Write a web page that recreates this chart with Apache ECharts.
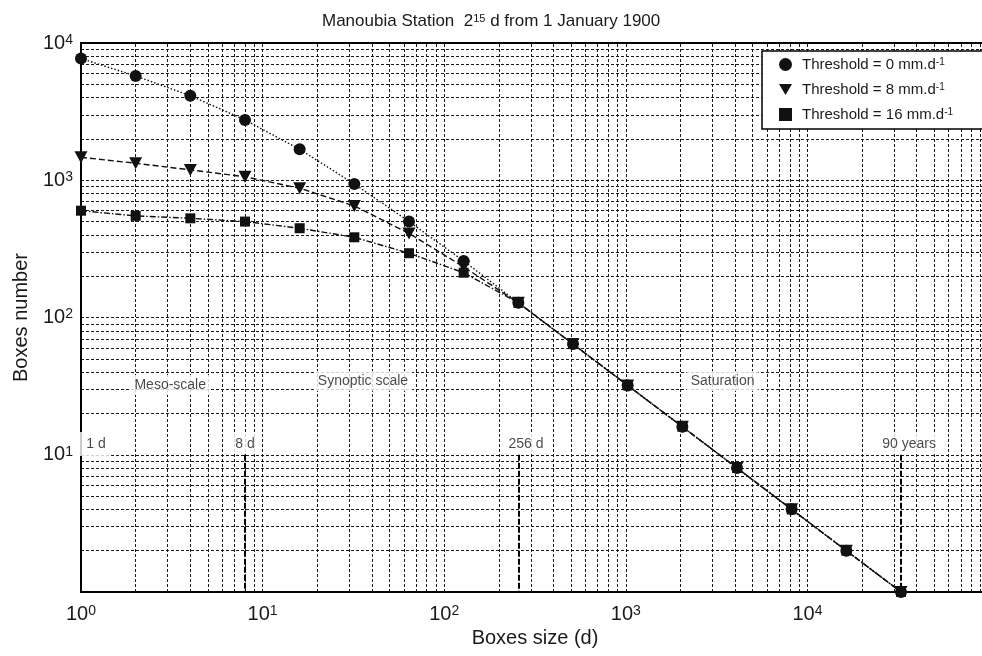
<!DOCTYPE html>
<html>
<head>
<meta charset="utf-8">
<script src="https://cdn.jsdelivr.net/npm/echarts@6/dist/echarts.min.js"></script>
<style>html,body{margin:0;padding:0;background:#fff;overflow:hidden}#c{width:992px;height:656px}</style>
</head>
<body>
<div id="c"></div>
<script>
// ---- data ----
const sizes = [1, 2, 4, 8, 16, 32, 64, 128, 256, 512, 1024, 2048, 4096, 8192, 16384, 32768];
const thr0  = [7700, 5750, 4130, 2750, 1680, 940, 500, 258, 128, 64, 32, 16, 8, 4, 2, 1];
const thr8  = [1470, 1330, 1190, 1060, 875, 650, 410, 234, 128, 64, 32, 16, 8, 4, 2, 1];
const thr16 = [600, 550, 528, 500, 447, 384, 294, 212, 128, 64, 32, 16, 8, 4, 2, 1];
const seriesNames = ['Threshold = 0 mm.d-1', 'Threshold = 8 mm.d-1', 'Threshold = 16 mm.d-1'];

// grid line values (log axes)
const xGridValues = [2,3,4,5,6,7,8,9,10,20,30,40,50,60,70,80,90,100,200,300,400,500,600,700,800,900,
  1000,2000,3000,4000,5000,6000,7000,8000,9000,10000,20000,30000,40000,50000,60000,70000,80000,90000];
const yGridValues = [2,3,4,5,6,7,8,9,10,20,30,40,50,60,70,80,90,100,200,300,400,500,600,700,800,900,
  1000,2000,3000,4000,5000,6000,7000,8000,9000];

// annotations
const annoText = ['Meso-scale', 'Synoptic scale', 'Saturation', '1 d', '8 d', '256 d', '90 years'];
const annoX = [3.1, 35.7, 3410, 1.15, 8, 282, 36300];
const annoY = [32.2, 34.5, 34.5, 12, 12, 12, 12];
const markerX = [8, 256, 32768];
const markerTop = 10, markerBottom = 1;

const FONT = 'Liberation Sans';
const INK = '#1a1a1a';

function pow10Label(v, hideVals) {
  const e = Math.round(Math.log10(v));
  if (hideVals.indexOf(e) >= 0) return '';
  return '{b|10}{s|' + e + '}';
}
const powRich = {
  b: { fontSize: 20, color: INK, fontFamily: FONT },
  s: { fontSize: 14, color: INK, fontFamily: FONT, verticalAlign: 'top' }
};

const chart = echarts.init(document.getElementById('c'), null, { renderer: 'canvas' });

const gridLineStyle = { color: '#1a1a1a', width: 1, type: [3, 2] };

const option = {
  animation: false,
  backgroundColor: '#fff',
  textStyle: { fontFamily: FONT },
  title: {
    text: 'Manoubia Station  2{s|15} d from 1 January 1900',
    left: 317, top: 8,
    textStyle: {
      fontSize: 17, fontWeight: 'normal', color: INK, fontFamily: FONT,
      rich: { s: { fontSize: 11, color: INK, fontFamily: FONT, verticalAlign: 'top' } }
    }
  },
  grid: {
    left: 81, top: 43, right: 1, bottom: 64,
    show: true, borderColor: '#000', borderWidth: 2, backgroundColor: 'transparent'
  },
  legend: {
    orient: 'vertical', left: 762, top: 51, z: 50, zlevel: 1,
    backgroundColor: '#fff', borderColor: '#000', borderWidth: 1.5,
    padding: [6, 300, 7, 17],
    itemWidth: 13, itemHeight: 13, itemGap: 10,
    textStyle: {
      fontSize: 15, color: INK, fontFamily: FONT,
      rich: {
        g: { width: 5, fontSize: 15 },
        sup: { fontSize: 10, color: INK, fontFamily: FONT, verticalAlign: 'top' }
      }
    },
    formatter: n => '{g| }' + n.replace('-1', '') + '{sup|-1}',
    data: [
      { name: seriesNames[0], icon: 'circle' },
      { name: seriesNames[1], icon: 'path://M0,0L12,0L6,10Z' },
      { name: seriesNames[2], icon: 'rect' }
    ]
  },
  xAxis: {
    type: 'log', logBase: 10, min: 1, max: 100000,
    name: 'Boxes size (d)', nameLocation: 'middle', nameGap: 34,
    nameTextStyle: { fontSize: 20, color: INK, fontFamily: FONT },
    axisLine: { show: true, lineStyle: { color: '#000', width: 2 } },
    axisTick: { show: false },
    splitLine: { show: false },
    axisLabel: { margin: 12, formatter: v => pow10Label(v, [5]), rich: powRich }
  },
  yAxis: {
    type: 'log', logBase: 10, min: 1, max: 10000,
    name: 'Boxes number', nameLocation: 'middle', nameGap: 50,
    nameTextStyle: { fontSize: 20, color: INK, fontFamily: FONT },
    axisLine: { show: true, lineStyle: { color: '#000', width: 2 } },
    axisTick: { show: false },
    splitLine: { show: false },
    axisLabel: { margin: 8, formatter: v => pow10Label(v, [0]), rich: powRich }
  },
  series: [
    {
      name: 'gridlines', type: 'line', data: [], silent: true, z: 1,
      markLine: {
        z: 1,
        silent: true, symbol: ['none', 'none'], animation: false,
        label: { show: false }, lineStyle: gridLineStyle,
        data: xGridValues.map(v => ({ xAxis: v })).concat(yGridValues.map(v => ({ yAxis: v })))
      }
    },
    {
      name: 'scale markers', type: 'line', data: [], silent: true, z: 2,
      markLine: {
        z: 2,
        silent: true, symbol: ['none', 'none'], animation: false,
        label: { show: false }, lineStyle: { color: '#000', width: 2, type: [6, 2] },
        data: markerX.map(x => [{ coord: [x, markerTop] }, { coord: [x, markerBottom] }])
      }
    },
    {
      name: seriesNames[0], type: 'line', z: 5,
      data: sizes.map((s, i) => [s, thr0[i]]),
      symbol: 'circle', symbolSize: 12,
      itemStyle: { color: '#111' },
      lineStyle: { color: '#111', width: 1.4, type: [1.5, 2] }
    },
    {
      name: seriesNames[1], type: 'line', z: 5,
      data: sizes.map((s, i) => [s, thr8[i]]),
      symbol: 'triangle', symbolRotate: 180, symbolSize: [13, 12],
      itemStyle: { color: '#111' },
      lineStyle: { color: '#111', width: 1.4, type: [6, 3] }
    },
    {
      name: seriesNames[2], type: 'line', z: 5,
      data: sizes.map((s, i) => [s, thr16[i]]),
      symbol: 'rect', symbolSize: 10,
      itemStyle: { color: '#111' },
      lineStyle: { color: '#111', width: 1.4, type: [6, 2, 1.5, 2] }
    },
    {
      name: 'annotations', type: 'scatter', z: 4, silent: true,
      symbolSize: 0,
      data: annoText.map((t, i) => ({
        value: [annoX[i], annoY[i]], name: t,
        label: t === '1 d' ? { padding: [5, 4, 5, 12] } : undefined
      })),
      label: {
        show: true, position: 'inside', formatter: p => p.name,
        fontSize: 14, color: INK, fontFamily: FONT,
        backgroundColor: '#fff', padding: [3, 4, 3, 4]
      }
    }
  ]
};
chart.setOption(option);
</script>
</body>
</html>
